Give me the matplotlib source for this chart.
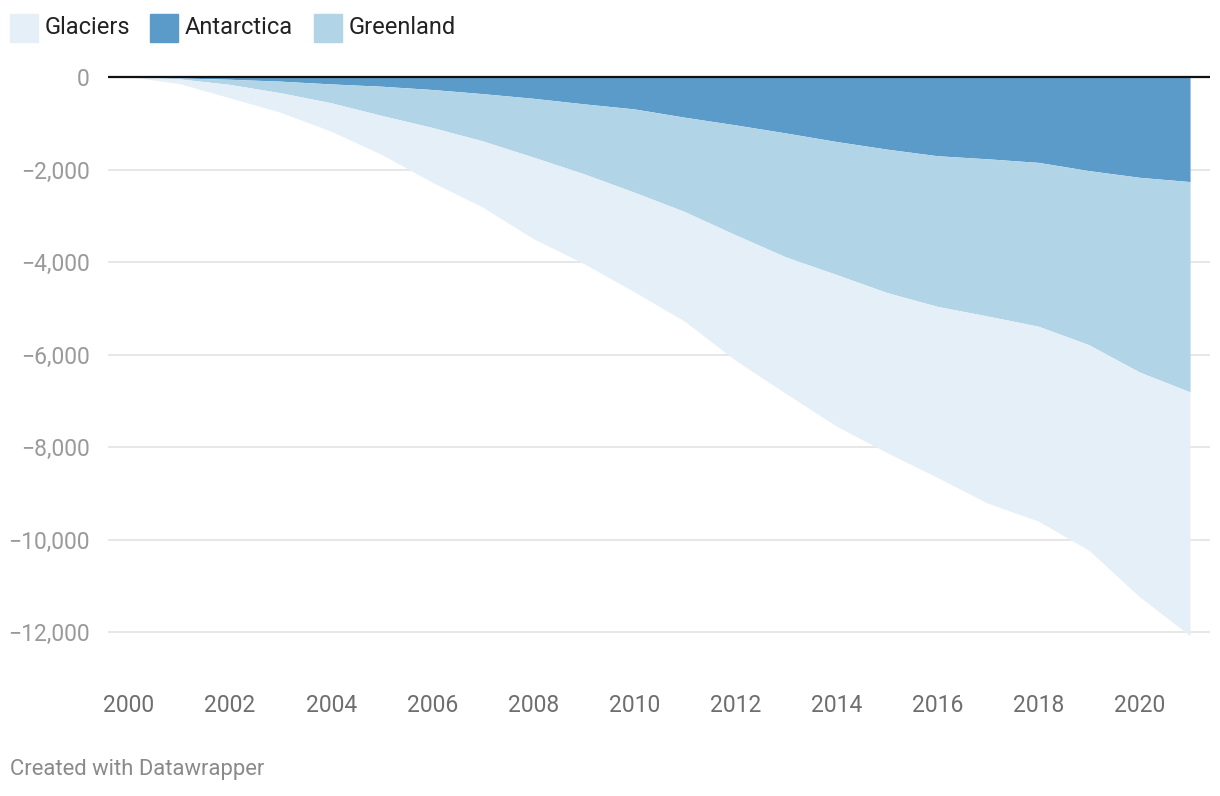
import matplotlib
matplotlib.use("Agg")
import matplotlib.pyplot as plt
from matplotlib.patches import Rectangle
from matplotlib.ticker import FuncFormatter

plt.rcParams['font.family'] = ['Roboto', 'DejaVu Sans']

years = list(range(2000, 2022))
antarctica = [0, -30, -60, -100, -160, -210, -280, -370, -470, -590, -700, -880,
              -1045, -1220, -1405, -1570, -1713, -1780, -1857, -2035, -2180, -2272]
greenland = [0, -20, -110, -250, -406, -630, -820, -1020, -1270, -1510, -1800, -2040,
             -2375, -2680, -2875, -3100, -3257, -3400, -3543, -3765, -4210, -4548]
glaciers = [0, -100, -290, -420, -614, -840, -1180, -1430, -1760, -1940, -2150, -2370,
            -2710, -2950, -3275, -3460, -3697, -4046, -4213, -4443, -4857, -5272]

y_ticks = [0, -2000, -4000, -6000, -8000, -10000, -12000]
x_ticks = list(range(2000, 2021, 2))

legend_names = ["Glaciers", "Antarctica", "Greenland"]
colors = {"Antarctica": "#5b9bc9", "Greenland": "#b2d4e7", "Glaciers": "#e4eff8"}

W, H = 1220, 796
fig = plt.figure(figsize=(W / 100, H / 100), dpi=100)
ax_left, ax_right, ax_top, ax_bot = 108, 1210, 70, 665
ax = fig.add_axes([ax_left / W, 1 - ax_bot / H, (ax_right - ax_left) / W, (ax_bot - ax_top) / H])

ax.stackplot(years, antarctica, greenland, glaciers,
             colors=[colors["Antarctica"], colors["Greenland"], colors["Glaciers"]],
             linewidth=0, zorder=2)

scale = (632 - 77) / 12000.0
ax.set_ylim(-(ax_bot - 77) / scale, (77 - ax_top) / scale)
pxyr = (1140 - 129) / 20.0
ax.set_xlim(2000 - (129 - ax_left) / pxyr, 2000 + (ax_right - 129) / pxyr)

for t in y_ticks:
    if t == 0:
        ax.axhline(0, color="#111111", lw=1.6, zorder=4)
    else:
        ax.axhline(t, color="#e3e3e3", lw=1.2, zorder=1)

ax.set_yticks(y_ticks)
ax.yaxis.set_major_formatter(FuncFormatter(lambda v, p: f"{int(v):,}".replace("-", "\u2212")))
ax.set_xticks(x_ticks)
ax.tick_params(axis='y', length=0, pad=13, labelsize=16.5, labelcolor="#9a9a9a")
ax.tick_params(axis='x', length=0, pad=21, labelsize=16.5, labelcolor="#6e6e6e")
for s in ax.spines.values():
    s.set_visible(False)

# legend
leg_x = [10, 150, 314]
for name, x0 in zip(legend_names, leg_x):
    fig.patches.append(Rectangle((x0 / W, 1 - 42 / H), 28 / W, 28 / H,
                                 transform=fig.transFigure, color=colors[name]))
    fig.text((x0 + 35) / W, 1 - 27 / H, name, fontsize=17, color="#222222",
             va="center", ha="left")

fig.text(10 / W, 1 - 770 / H, "Created with Datawrapper", fontsize=15.8,
         color="#8a8a8a", va="center", ha="left")

fig.savefig("out.png", dpi=100)
